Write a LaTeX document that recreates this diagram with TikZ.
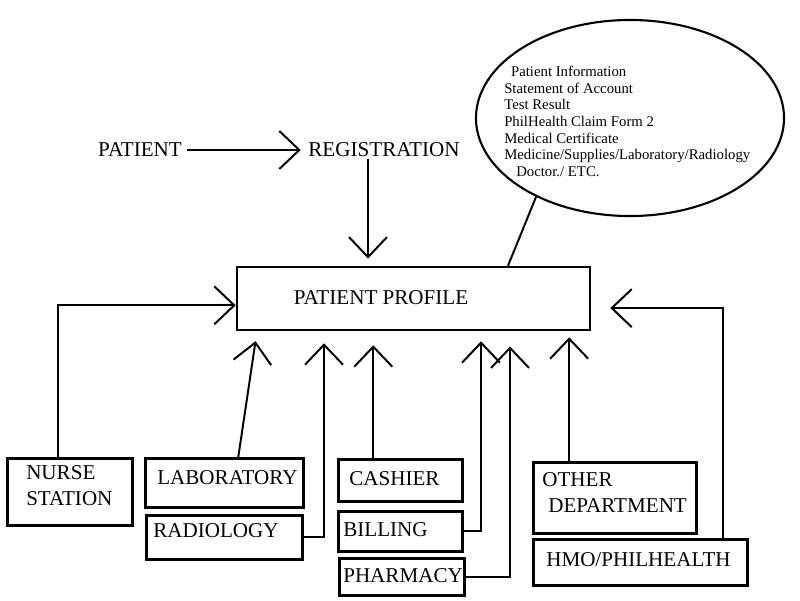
\documentclass[tikz,border=0pt]{standalone}
\usepackage{fontspec}
\setmainfont{Liberation Serif}
\usetikzlibrary{arrows.meta,shapes.geometric,positioning,calc}

\tikzset{
  flow/.style={line width=1.4pt,-{Straight Barb[length=0.5cm,width=0.95cm]}},
  link/.style={line width=1.4pt},
  box/.style={draw,line width=1.8pt,anchor=north west,align=left,inner ysep=0pt,font=\fontsize{15}{18.5}\selectfont},
  word/.style={font=\fontsize{15}{18.5}\selectfont,inner sep=1pt}
}

\begin{document}
\begin{tikzpicture}[x=0.025cm,y=-0.025cm]
\useasboundingbox (0,0) rectangle (800,600);

% top row
\node[word] (patient) at (140,150) {PATIENT};
\node[word] (reg) at (384,150) {REGISTRATION};
\draw[flow,shorten <=0.1cm,shorten >=0.15cm] (patient) -- (reg);

% centre box
\node[draw,line width=1.8pt,minimum width=8.825cm,minimum height=1.575cm] (profile) at (413.5,298.5) {};
\node[word] (proftext) at (381,298) {PATIENT PROFILE};
\draw[flow,shorten >=0.18cm] (reg.south -| 368,0) -- (368,0 |- profile.north);

% speech bubble
\node[draw,ellipse,line width=1.5pt,inner sep=0pt,minimum width=7.7cm,minimum height=4.9cm] (bubble) at (630,118) {};
\node[anchor=north west,align=left,inner sep=0pt,font=\fontsize{10.5}{11.8}\selectfont] (info) at (504,66) {%
\hspace*{0.17cm}Patient Information\\
Statement of Account\\
Test Result\\
PhilHealth Claim Form 2\\
Medical Certificate\\
Medicine/Supplies/Laboratory/Radiology\\
\hspace*{0.3cm}Doctor./ ETC.};
\draw[link] (bubble.220) -- (508,0 |- profile.north);

% departments
\node[box,inner xsep=0.475cm,text width=2.175cm,minimum height=1.675cm,text depth=0.95cm] (nurse) at (6,457) {NURSE\\STATION};
\node[box,inner xsep=0.3cm,text width=3.35cm,minimum height=1.225cm,text depth=0.25cm] (lab) at (144,457) {LABORATORY};
\node[box,inner xsep=0.175cm,text width=3.55cm,minimum height=1.1cm,text depth=0.35cm] (rad) at (145,514) {RADIOLOGY};
\node[box,inner xsep=0.275cm,text width=2.55cm,minimum height=1.05cm,text depth=0.1cm] (cash) at (337,458) {CASHIER};
\node[box,inner xsep=0.125cm,text width=2.85cm,minimum height=1cm,text depth=0.1cm] (bill) at (337,510) {BILLING};
\node[box,inner xsep=0.1cm,text width=2.925cm,minimum height=0.925cm,text depth=0.05cm] (pharm) at (338,557) {PHARMACY};
\node[box,inner xsep=0.225cm,text width=3.625cm,minimum height=1.775cm,text depth=0.9cm] (other) at (532,461) {OTHER\\\hspace*{0.15cm}DEPARTMENT};
\node[box,inner xsep=0.325cm,text width=4.7cm,minimum height=1.15cm,text depth=0.15cm] (hmo) at (532,538) {HMO/PHILHEALTH};

% connectors into the profile
\draw[flow] ([xshift=-0.29cm]nurse.north) |- ([yshift=-0.17cm]profile.west);
\draw[flow,shorten >=0.25cm] ([xshift=0.35cm]lab.north) -- (257,0 |- profile.south);
\draw[flow,shorten >=0.3cm] (rad.east) -| (324,0 |- profile.south);
\draw[flow,shorten >=0.35cm] ([xshift=-0.675cm]cash.north) -- ([xshift=-0.675cm]cash.north |- profile.south);
\draw[flow,shorten >=0.25cm] (bill.east) -| (481,0 |- profile.south);
\draw[flow,shorten >=0.38cm] (pharm.east) -| (510,0 |- profile.south);
\draw[flow,shorten >=0.15cm] ([xshift=-1.14cm]other.north) -- ([xshift=-1.14cm]other.north |- profile.south);
\draw[flow,shorten >=0.475cm] ([xshift=2.075cm]hmo.north) |- ([yshift=-0.24cm]profile.east);

\end{tikzpicture}
\end{document}
